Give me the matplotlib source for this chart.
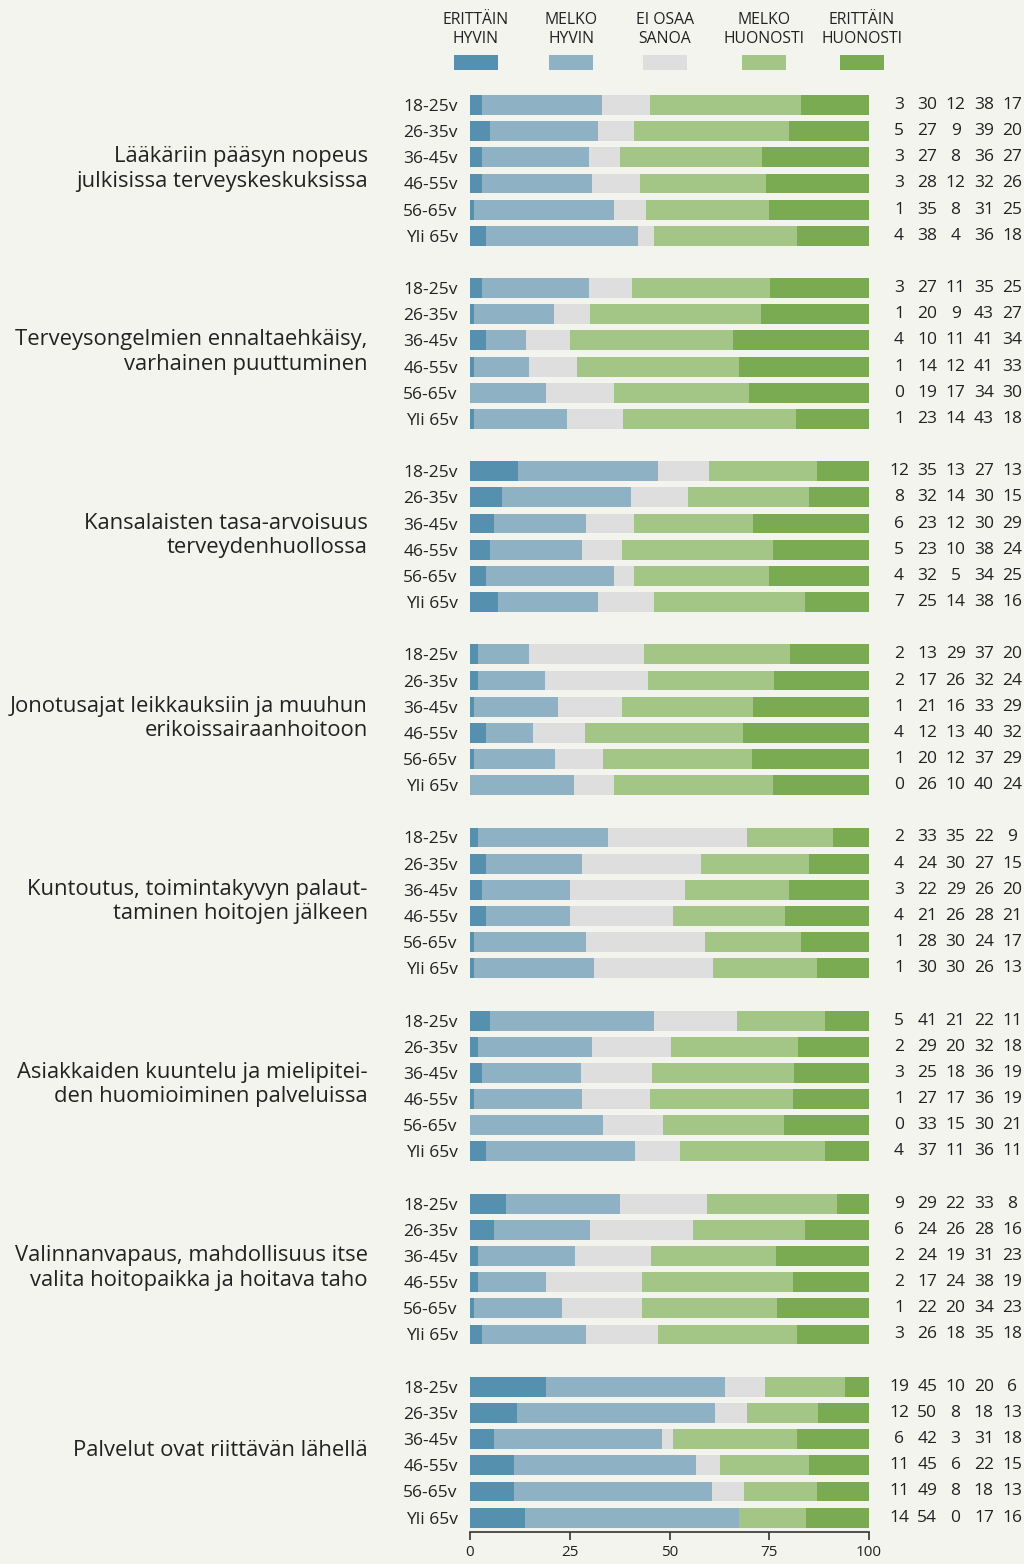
import numpy as np
import matplotlib
matplotlib.use('Agg')
import matplotlib.pyplot as plt
from matplotlib.patches import Rectangle

plt.rcParams['font.family'] = ['Open Sans', 'DejaVu Sans']

topics = ['Lääkäriin pääsyn nopeus\njulkisissa terveyskeskuksissa',
          'Terveysongelmien ennaltaehkäisy,\nvarhainen puuttuminen',
          'Kansalaisten tasa-arvoisuus\nterveydenhuollossa',
          'Jonotusajat leikkauksiin ja muuhun\nerikoissairaanhoitoon',
          'Kuntoutus, toimintakyvyn palaut-\ntaminen hoitojen jälkeen',
          'Asiakkaiden kuuntelu ja mielipitei-\nden huomioiminen palveluissa',
          'Valinnanvapaus, mahdollisuus itse\nvalita hoitopaikka ja hoitava taho',
          'Palvelut ovat riittävän lähellä']
ages = ['18-25v', '26-35v', '36-45v', '46-55v', '56-65v', 'Yli 65v']
answers = ['ERITTÄIN\nHYVIN', 'MELKO\nHYVIN', 'EI OSAA\nSANOA', 'MELKO\nHUONOSTI', 'ERITTÄIN\nHUONOSTI']
colors = ['#5590ae', '#8fb1c4', '#dedede', '#a3c585', '#7aab52']

# one list per answer, 6 age groups per topic
erittain_hyvin = [3, 5, 3, 3, 1, 4,
                  3, 1, 4, 1, 0, 1,
                  12, 8, 6, 5, 4, 7,
                  2, 2, 1, 4, 1, 0,
                  2, 4, 3, 4, 1, 1,
                  5, 2, 3, 1, 0, 4,
                  9, 6, 2, 2, 1, 3,
                  19, 12, 6, 11, 11, 14]
melko_hyvin = [30, 27, 27, 28, 35, 38,
               27, 20, 10, 14, 19, 23,
               35, 32, 23, 23, 32, 25,
               13, 17, 21, 12, 20, 26,
               33, 24, 22, 21, 28, 30,
               41, 29, 25, 27, 33, 37,
               29, 24, 24, 17, 22, 26,
               45, 50, 42, 45, 49, 54]
ei_osaa = [12, 9, 8, 12, 8, 4,
           11, 9, 11, 12, 17, 14,
           13, 14, 12, 10, 5, 14,
           29, 26, 16, 13, 12, 10,
           35, 30, 29, 26, 30, 30,
           21, 20, 18, 17, 15, 11,
           22, 26, 19, 24, 20, 18,
           10, 8, 3, 6, 8, 0]
melko_huonosti = [38, 39, 36, 32, 31, 36,
                  35, 43, 41, 41, 34, 43,
                  27, 30, 30, 38, 34, 38,
                  37, 32, 33, 40, 37, 40,
                  22, 27, 26, 28, 24, 26,
                  22, 32, 36, 36, 30, 36,
                  33, 28, 31, 38, 34, 35,
                  20, 18, 31, 22, 18, 17]
erittain_huonosti = [17, 20, 27, 26, 25, 18,
                     25, 27, 34, 33, 30, 18,
                     13, 15, 29, 24, 25, 16,
                     20, 24, 29, 32, 29, 24,
                     9, 15, 20, 21, 17, 13,
                     11, 18, 19, 19, 21, 11,
                     8, 16, 23, 19, 23, 18,
                     6, 13, 18, 15, 13, 16]

vals = np.array([erittain_hyvin, melko_hyvin, ei_osaa, melko_huonosti, erittain_huonosti], dtype=float)
pct = vals / vals.sum(axis=0) * 100

n_age = len(ages)
ypos = np.array([g * (n_age + 1) + r for g in range(len(topics)) for r in range(n_age)])

bg = '#f4f4ef'
txt = '#222222'
fig = plt.figure(figsize=(10.24, 15.64), dpi=100, facecolor=bg)
ax = fig.add_axes([470 / 1024, 1 - 1532 / 1564, 399 / 1024, (1532 - 89.3) / 1564])
ax.set_facecolor(bg)

left = np.zeros(len(ypos))
for k in range(5):
    ax.barh(ypos, pct[k], left=left, height=0.76, color=colors[k], linewidth=0)
    left += pct[k]

ax.set_xlim(0, 100)
ax.set_ylim(54.55, -0.6)
ax.set_yticks(ypos)
ax.set_yticklabels(ages * len(topics))
ax.tick_params(axis='y', length=0, pad=9, labelsize=12.5, labelcolor=txt)
ax.set_xticks([0, 25, 50, 75, 100])
ax.tick_params(axis='x', direction='out', length=6, width=1.2, color='#333333',
               labelsize=11, labelcolor=txt, pad=3)
for s in ['top', 'right', 'left']:
    ax.spines[s].set_visible(False)
ax.spines['bottom'].set_color('#333333')
ax.spines['bottom'].set_linewidth(1.2)

# numbers on the right
for i, y in enumerate(ypos):
    for k in range(5):
        ax.text(107.5 + 7.1 * k, y, str(int(vals[k, i])), ha='center', va='center',
                fontsize=12.5, color=txt, clip_on=False)

# topic titles
for g, t in enumerate(topics):
    yc = g * (n_age + 1) + (n_age - 1) / 2
    ax.text(-25.6, yc - 0.05, t, ha='right', va='center', fontsize=15.8, color=txt,
            linespacing=1.22, clip_on=False)

# legend
leg_x = [476, 571, 665, 764, 862]
for k in range(5):
    fig.text(leg_x[k] / 1024, 1 - 29.5 / 1564, answers[k], ha='center', va='center',
             fontsize=11.3, color=txt, linespacing=1.25)
    fig.patches.append(Rectangle(((leg_x[k] - 22) / 1024, 1 - 70 / 1564), 44 / 1024, 15 / 1564,
                                 transform=fig.transFigure, facecolor=colors[k], linewidth=0))

fig.savefig('out.png', dpi=100, facecolor=bg)
